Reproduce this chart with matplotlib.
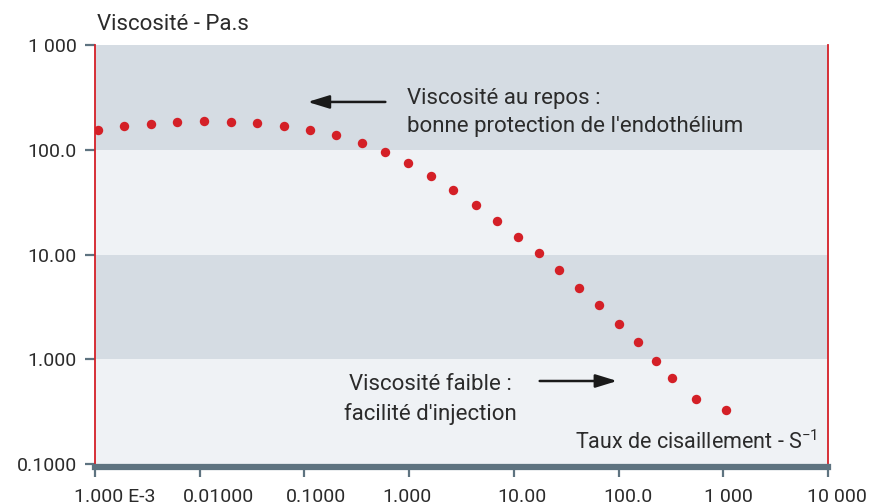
import matplotlib
matplotlib.use("Agg")
import matplotlib.pyplot as plt
from matplotlib import font_manager
from matplotlib.transforms import ScaledTranslation

# shear rate (1/s) and viscosity (Pa.s)
shear_rate = [0.00107, 0.00189, 0.00343, 0.00607, 0.0110, 0.0199, 0.0352, 0.0638,
              0.113, 0.200, 0.355, 0.589, 0.975, 1.62, 2.62, 4.35, 6.91, 10.96,
              17.4, 27.0, 41.9, 65.0, 101, 153, 228, 324, 549, 1062]
viscosity = [154.5, 168.6, 176.3, 184.1, 188.2, 184.1, 179.9, 168.6,
             154.5, 138.3, 116.0, 95.2, 74.8, 56.1, 41.3, 29.7, 20.9, 14.7,
             10.3, 7.11, 4.79, 3.29, 2.17, 1.46, 0.962, 0.662, 0.417, 0.327]

x_ticks = [1e-3, 1e-2, 1e-1, 1, 10, 100, 1000, 10000]
x_labels = ["1.000 E-3", "0.01000", "0.1000", "1.000", "10.00", "100.0", "1 000", "10 000"]
y_ticks = [0.1, 1, 10, 100, 1000]
y_labels = ["0.1000", "1.000", "10.00", "100.0", "1 000"]
bands = [(0.1, 1, "#eff2f5"), (1, 10, "#d5dce3"), (10, 100, "#eff2f5"), (100, 1000, "#d5dce3")]

names = {f.name for f in font_manager.fontManager.ttflist}
font = "Liberation Sans Narrow" if "Liberation Sans Narrow" in names else "Roboto"
plt.rcParams["font.family"] = [font, "DejaVu Sans"]
plt.rcParams["mathtext.fontset"] = "custom"
plt.rcParams["mathtext.rm"] = font

txt = "#2b2b2b"
axis_col = "#5e7380"
red = "#d42027"

fig = plt.figure(figsize=(8.69, 5.04), dpi=100)
ax = fig.add_axes([95 / 869, 40 / 504, 733 / 869, 419 / 504])
ax.set_xscale("log")
ax.set_yscale("log")
ax.set_xlim(1e-3, 1e4)
ax.set_ylim(0.1, 1000)

for lo, hi, c in bands:
    ax.axhspan(lo, hi, color=c, zorder=0, lw=0)

ax.scatter(shear_rate, viscosity, s=46, color=red, zorder=3, lw=0)

ax.spines["top"].set_visible(False)
ax.spines["left"].set_color(red)
ax.spines["left"].set_linewidth(1.3)
ax.spines["right"].set_color(red)
ax.spines["right"].set_linewidth(1.3)
ax.spines["bottom"].set_color(axis_col)
ax.spines["bottom"].set_linewidth(4.5)
ax.spines["bottom"].set_position(("outward", 2))

ax.set_xticks(x_ticks)
ax.set_xticklabels(x_labels)
ax.set_yticks(y_ticks)
ax.set_yticklabels(y_labels)
ax.minorticks_off()
ax.tick_params(axis="x", length=7, width=1.6, color=axis_col, labelsize=14,
               labelcolor=txt, pad=8)
ax.tick_params(axis="y", length=7, width=1.6, color=axis_col, labelsize=14,
               labelcolor=txt, pad=6)

# the source nudges its x labels a little to the right of the ticks
shifts = [20, 19, 12, -2, 8, 9, 5, 9]
for lab, dx in zip(ax.get_xticklabels(), shifts):
    lab.set_transform(lab.get_transform() + ScaledTranslation(dx / 100, 0, fig.dpi_scale_trans))

ax.text(0.003, 1.048, "Viscosité - Pa.s", transform=ax.transAxes, fontsize=16,
        color=txt, ha="left", va="center")
ax.text(0.986, 0.036, r"Taux de cisaillement - S$^{\mathregular{-1}}$",
        transform=ax.transAxes, fontsize=15.5, color=txt, ha="right", va="baseline")

ax.text(0.955, 225, "Viscosité au repos :\nbonne protection de l'endothélium",
        fontsize=16, color=txt, ha="left", va="center", linespacing=1.45)
ax.annotate("", xy=(0.101, 286), xytext=(0.63, 286),
            arrowprops=dict(arrowstyle="-|>,head_length=1.3,head_width=0.4",
                            color="#1a1a1a", lw=1.8))

ax.text(1.6, 0.415, "Viscosité faible :\nfacilité d'injection",
        fontsize=16, color=txt, ha="center", va="center", linespacing=1.45)
ax.annotate("", xy=(103, 0.62), xytext=(16.6, 0.62),
            arrowprops=dict(arrowstyle="-|>,head_length=1.3,head_width=0.4",
                            color="#1a1a1a", lw=1.8))

fig.savefig("out.png", dpi=100)
